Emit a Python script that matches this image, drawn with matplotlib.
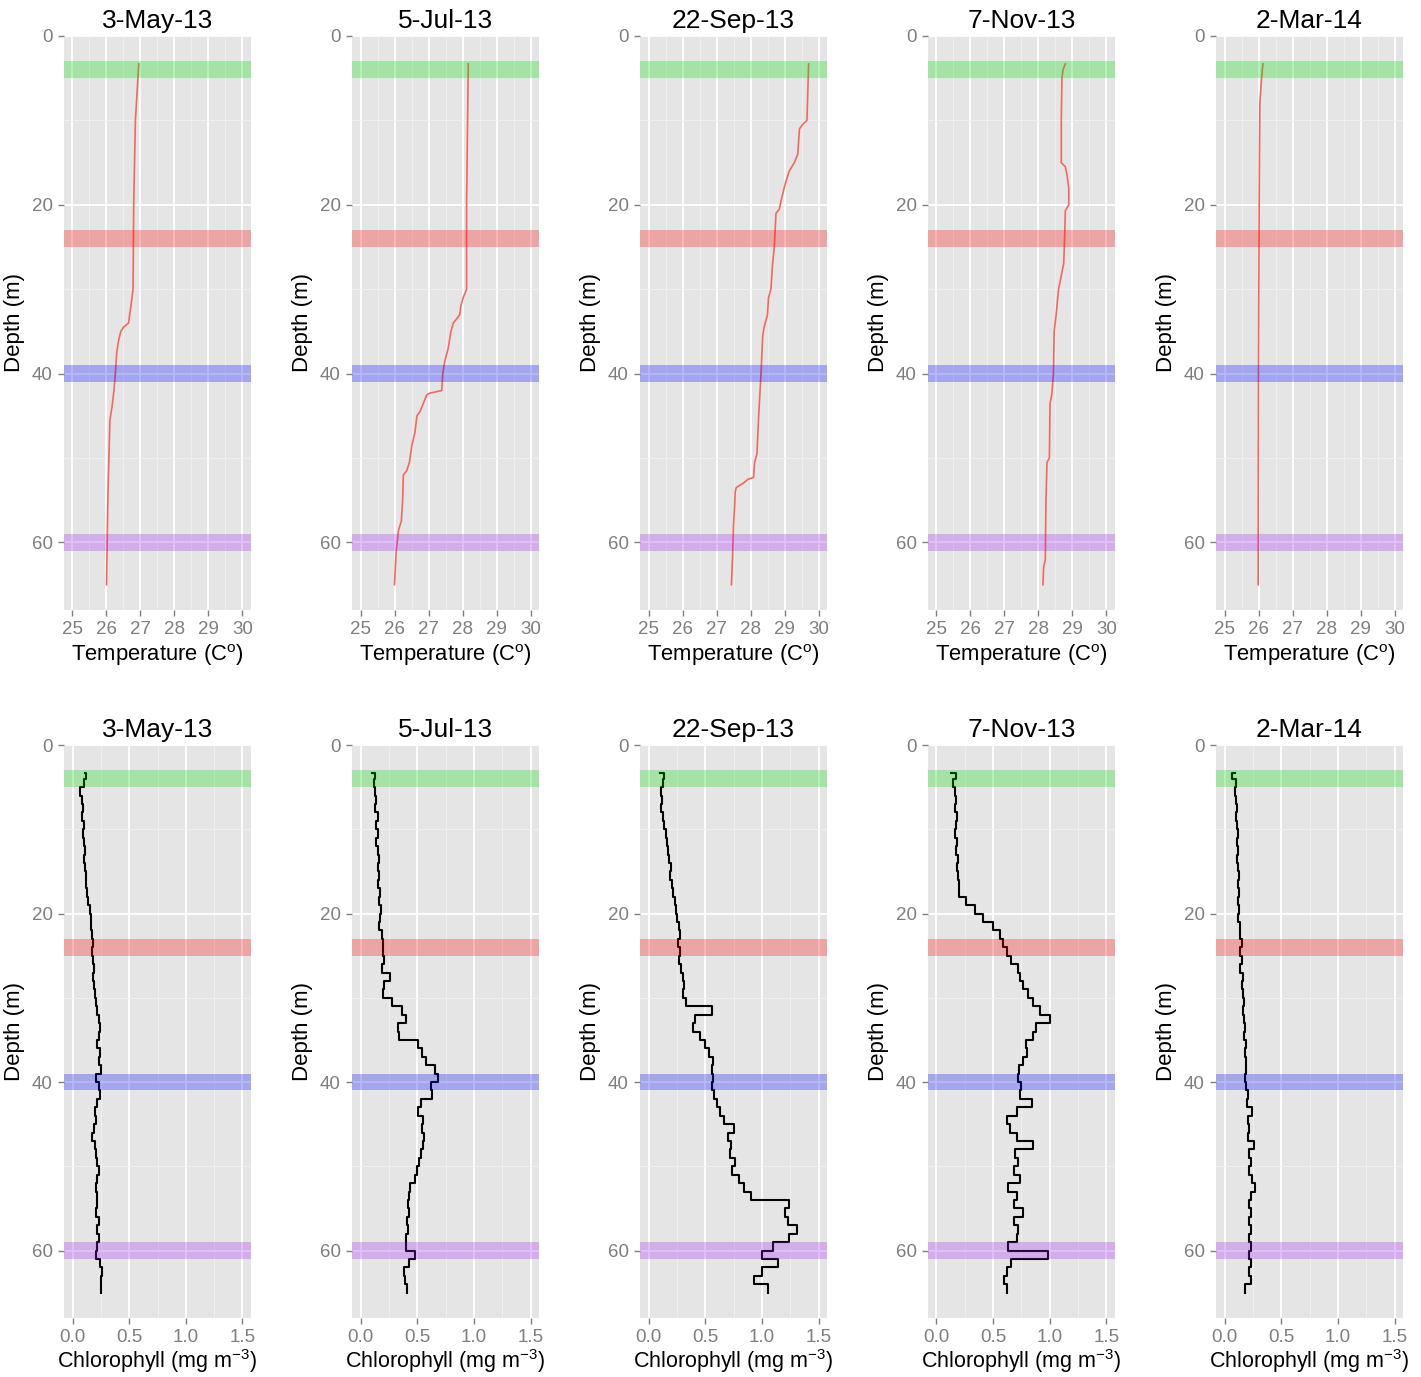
import numpy as np
import matplotlib
matplotlib.use("Agg")
import matplotlib.pyplot as plt
from matplotlib.ticker import FixedLocator

plt.rcParams['font.family'] = ['Liberation Sans', 'DejaVu Sans']
plt.rcParams['mathtext.fontset'] = 'custom'
plt.rcParams['mathtext.rm'] = 'Liberation Sans'
plt.rcParams['mathtext.it'] = 'Liberation Sans:italic'

# ---------------- data ----------------
dates = ["3-May-13", "5-Jul-13", "22-Sep-13", "7-Nov-13", "2-Mar-14"]

band_depths = [4, 24, 40, 60]
band_colors = ["#00DD00", "#FF0000", "#0000FF", "#A020F0"]

# Temperature profiles (depth in m, temperature in C)
temp_may_depth = [3.3, 10, 20, 30, 31, 32.5, 34, 34.5, 35, 36, 37.5, 40, 42, 44, 45.5, 50, 55, 60, 65]
temp_may = [26.95, 26.85, 26.8, 26.78, 26.75, 26.7, 26.65, 26.5, 26.42, 26.36, 26.3, 26.26, 26.22, 26.16, 26.1, 26.07, 26.04, 26.02, 26.0]

temp_jul_depth = [3.3, 10, 20, 30, 31, 32, 33, 33.5, 34, 35, 37, 38.5, 40, 42, 42.3, 42.5, 43.5, 44.5, 45, 47, 48.5, 50.5, 51.5, 52, 55, 57.5, 58.5, 61, 65]
temp_jul = [28.17, 28.15, 28.12, 28.12, 28.02, 27.95, 27.92, 27.83, 27.73, 27.66, 27.58, 27.48, 27.42, 27.39, 27.05, 26.95, 26.85, 26.75, 26.66, 26.6, 26.51, 26.44, 26.36, 26.26, 26.24, 26.2, 26.12, 26.05, 26.0]

temp_sep_depth = [3.3, 10, 10.5, 11, 14, 15, 16, 17, 18, 19.5, 20.5, 21, 25, 27, 30, 31, 33, 34.5, 35.5, 40, 45, 49.5, 50.5, 52.3, 52.5, 53, 53.5, 54, 56, 58, 62, 65]
temp_sep = [29.71, 29.66, 29.53, 29.44, 29.39, 29.29, 29.14, 29.06, 28.99, 28.9, 28.85, 28.75, 28.7, 28.65, 28.6, 28.53, 28.5, 28.4, 28.36, 28.31, 28.24, 28.19, 28.12, 28.09, 27.93, 27.78, 27.58, 27.55, 27.53, 27.5, 27.47, 27.44]

temp_nov_depth = [3.3, 4, 5, 10, 15, 15.5, 16.5, 18, 20, 20.7, 25, 27, 28, 30, 33, 35, 40, 42.5, 43.5, 50, 50.5, 55, 62, 63, 65]
temp_nov = [28.79, 28.72, 28.69, 28.67, 28.67, 28.79, 28.84, 28.89, 28.89, 28.79, 28.76, 28.74, 28.69, 28.59, 28.52, 28.46, 28.44, 28.39, 28.34, 28.32, 28.25, 28.22, 28.2, 28.15, 28.13]

temp_mar_depth = [3.3, 5, 8, 20, 40, 65]
temp_mar = [26.13, 26.09, 26.04, 26.02, 26.0, 25.99]

# Chlorophyll profiles (mg m-3) on a common depth grid (m)
chl_depth = [3.3, 4, 5, 6, 7, 8, 9, 10, 11, 12, 13, 14, 15, 16, 17, 18, 19, 20,
             21, 22, 23, 24, 25, 26, 27, 28, 29, 30, 31, 32, 33, 34, 35, 36, 37,
             38, 39, 40, 41, 42, 43, 44, 45, 46, 47, 48, 49, 50, 51, 52, 53, 54,
             55, 56, 57, 58, 59, 60, 61, 62, 63, 64, 65]

chl_may = [0.11, 0.12, 0.10, 0.07, 0.08, 0.09, 0.08, 0.10, 0.09, 0.10, 0.11, 0.10, 0.11, 0.12, 0.12, 0.13, 0.14, 0.15,
           0.16, 0.16, 0.17, 0.18, 0.17, 0.18, 0.19, 0.18, 0.19, 0.20, 0.21, 0.22, 0.23, 0.24, 0.23, 0.22, 0.24,
           0.23, 0.25, 0.21, 0.23, 0.24, 0.22, 0.20, 0.21, 0.19, 0.17, 0.20, 0.21, 0.22, 0.23, 0.22, 0.21, 0.22,
           0.22, 0.21, 0.23, 0.22, 0.23, 0.22, 0.21, 0.24, 0.26, 0.25, 0.25]

chl_jul = [0.10, 0.13, 0.12, 0.13, 0.14, 0.13, 0.15, 0.14, 0.15, 0.14, 0.15, 0.16, 0.15, 0.16, 0.15, 0.17, 0.16, 0.18,
           0.17, 0.16, 0.19, 0.20, 0.20, 0.21, 0.19, 0.26, 0.21, 0.20, 0.28, 0.37, 0.40, 0.33, 0.34, 0.51, 0.54,
           0.58, 0.66, 0.68, 0.62, 0.63, 0.53, 0.51, 0.55, 0.54, 0.56, 0.55, 0.53, 0.52, 0.50, 0.48, 0.44, 0.43,
           0.42, 0.43, 0.41, 0.42, 0.40, 0.40, 0.48, 0.43, 0.38, 0.39, 0.41]

chl_sep = [0.10, 0.14, 0.13, 0.11, 0.12, 0.11, 0.13, 0.14, 0.15, 0.16, 0.17, 0.18, 0.20, 0.19, 0.21, 0.22, 0.23, 0.24,
           0.25, 0.27, 0.28, 0.26, 0.28, 0.27, 0.29, 0.30, 0.31, 0.30, 0.33, 0.56, 0.41, 0.39, 0.45, 0.50, 0.53,
           0.57, 0.56, 0.57, 0.56, 0.58, 0.60, 0.63, 0.67, 0.75, 0.70, 0.73, 0.72, 0.76, 0.74, 0.80, 0.84, 0.90,
           1.24, 1.20, 1.23, 1.31, 1.24, 1.10, 1.00, 1.14, 1.00, 0.93, 1.05]

chl_nov = [0.13, 0.17, 0.15, 0.16, 0.17, 0.16, 0.18, 0.17, 0.16, 0.18, 0.17, 0.19, 0.18, 0.19, 0.20, 0.20, 0.26, 0.34,
           0.41, 0.50, 0.56, 0.59, 0.62, 0.66, 0.72, 0.74, 0.76, 0.81, 0.85, 0.91, 1.00, 0.88, 0.85, 0.79, 0.80,
           0.76, 0.73, 0.72, 0.75, 0.74, 0.84, 0.71, 0.62, 0.65, 0.71, 0.85, 0.69, 0.72, 0.68, 0.74, 0.63, 0.71,
           0.68, 0.76, 0.68, 0.72, 0.71, 0.63, 0.98, 0.66, 0.62, 0.60, 0.62]

chl_mar = [0.09, 0.07, 0.10, 0.09, 0.10, 0.11, 0.10, 0.11, 0.12, 0.11, 0.12, 0.11, 0.12, 0.13, 0.12, 0.13, 0.12, 0.13,
           0.12, 0.14, 0.14, 0.15, 0.14, 0.15, 0.14, 0.16, 0.15, 0.16, 0.17, 0.16, 0.17, 0.18, 0.17, 0.19, 0.18,
           0.19, 0.19, 0.18, 0.19, 0.21, 0.20, 0.24, 0.21, 0.22, 0.21, 0.26, 0.22, 0.23, 0.22, 0.24, 0.27, 0.23,
           0.22, 0.23, 0.22, 0.23, 0.22, 0.23, 0.22, 0.23, 0.22, 0.23, 0.18]

temp_profiles = [(temp_may_depth, temp_may), (temp_jul_depth, temp_jul), (temp_sep_depth, temp_sep),
                 (temp_nov_depth, temp_nov), (temp_mar_depth, temp_mar)]
chl_profiles = [chl_may, chl_jul, chl_sep, chl_nov, chl_mar]

temp_ticks = [25, 26, 27, 28, 29, 30]
chl_ticks = [0.0, 0.5, 1.0, 1.5]
depth_ticks = [0, 20, 40, 60]

# ---------------- figure ----------------
W, H = 1421, 1377
fig = plt.figure(figsize=(W / 100, H / 100), dpi=100)
fig.patch.set_facecolor("white")

col_left = [64, 352, 640, 928, 1216]
pw = 187
rows = [(36, 610), (745, 1318)]

GREY = "#7F7F7F"


def style(ax, xlim, major, minor, fmt):
    ax.set_facecolor("#E5E5E5")
    for s in ax.spines.values():
        s.set_visible(False)
    ax.set_xlim(*xlim)
    ax.set_ylim(68, 0)
    ax.xaxis.set_major_locator(FixedLocator(major))
    ax.xaxis.set_minor_locator(FixedLocator(minor))
    ax.set_xticklabels([fmt(v) for v in major])
    ax.yaxis.set_major_locator(FixedLocator(depth_ticks))
    ax.yaxis.set_minor_locator(FixedLocator([10, 30, 50]))
    ax.grid(which="major", color="white", linewidth=1.3, zorder=0)
    ax.grid(which="minor", color="#F2F2F2", linewidth=0.6, zorder=0)
    ax.set_axisbelow(True)
    ax.tick_params(which="major", colors=GREY, labelcolor=GREY, labelsize=13.5,
                   length=4, width=1.0, direction="out", pad=4)
    ax.tick_params(which="minor", length=0)
    ax.set_ylabel("Depth (m)", fontsize=16, color="black", labelpad=5)


for r, (top, bot) in enumerate(rows):
    for c in range(5):
        ax = fig.add_axes([col_left[c] / W, (H - bot) / H, pw / W, (bot - top) / H])
        if r == 0:
            style(ax, (24.75, 30.25), temp_ticks, [25.5, 26.5, 27.5, 28.5, 29.5],
                  lambda v: f"{v:d}")
            d, t = temp_profiles[c]
            ax.plot(t, d, color="#F4675E", linewidth=1.2, zorder=2)
            ax.set_xlabel(r"Temperature (C$^{\mathrm{o}}$)", fontsize=15.8, labelpad=3)
        else:
            style(ax, (-0.075, 1.575), chl_ticks, [0.25, 0.75, 1.25],
                  lambda v: f"{v:.1f}")
            ax.plot(chl_profiles[c], chl_depth, color="black", linewidth=1.5,
                    drawstyle="steps-post", zorder=2)
            ax.set_xlabel(r"Chlorophyll (mg m$^{-3}$)", fontsize=15.5, labelpad=1)
        for bd, bc in zip(band_depths, band_colors):
            ax.axhspan(bd - 1, bd + 1, color=bc, alpha=0.28, linewidth=0, zorder=3)
        ax.set_title(dates[c], fontsize=19, pad=6)

fig.savefig("out.png", dpi=100, facecolor="white")
